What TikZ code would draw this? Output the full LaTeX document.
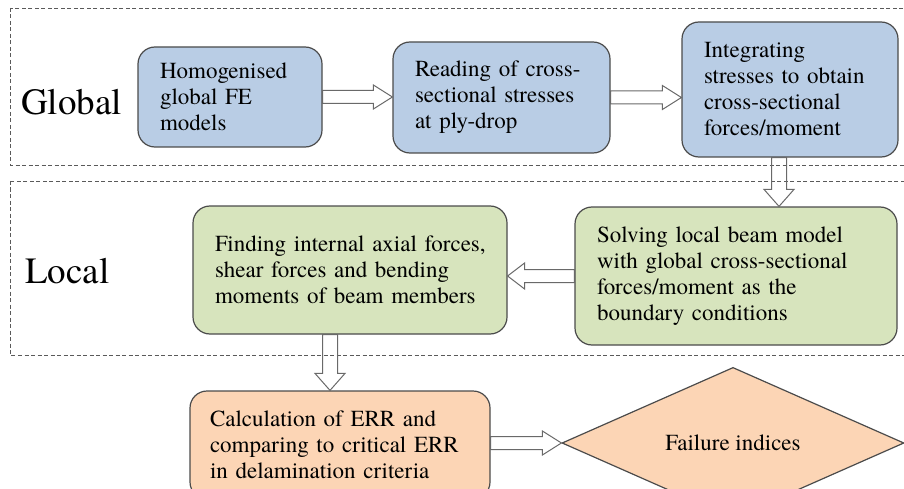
\documentclass[tikz,border=0pt]{standalone}
\usepackage{fontspec}
\setmainfont{texgyretermes}[Extension=.otf, UprightFont=*-regular, BoldFont=*-bold, ItalicFont=*-italic, BoldItalicFont=*-bolditalic]
\usetikzlibrary{calc,shapes.geometric}
\definecolor{boxblue}{RGB}{185,205,229}
\definecolor{boxgreen}{RGB}{215,228,189}
\definecolor{boxorange}{RGB}{252,213,181}
\definecolor{edgegray}{RGB}{75,75,75}
\definecolor{arrowgray}{RGB}{105,105,105}
\definecolor{dashgray}{RGB}{90,90,90}
\tikzset{
  region/.style={draw=dashgray, line width=0.9pt, dash pattern=on 4pt off 2.5pt},
  stepbox/.style={draw=edgegray, line width=1.2pt, rounded corners=17pt, inner xsep=22pt, inner ysep=0pt,
    align=left, font=\fontsize{23}{26}\selectfont},
  zonelabel/.style={anchor=base west, inner sep=0pt, font=\fontsize{37}{40}\selectfont},
  hollow/.style={draw=arrowgray, line width=1pt},
  rarrow/.style={hollow, to path={let \p1=(\tikztostart), \p2=(\tikztotarget) in
    (\x1,\y1+6.5pt) -- (\x2-19pt,\y1+6.5pt) -- (\x2-19pt,\y1+12pt) -- (\x2,\y1)
    -- (\x2-19pt,\y1-12pt) -- (\x2-19pt,\y1-6.5pt) -- (\x1,\y1-6.5pt) -- cycle}},
  larrow/.style={hollow, to path={let \p1=(\tikztostart), \p2=(\tikztotarget) in
    (\x1,\y1+6.5pt) -- (\x2+17pt,\y1+6.5pt) -- (\x2+17pt,\y1+13pt) -- (\x2,\y1)
    -- (\x2+17pt,\y1-13pt) -- (\x2+17pt,\y1-6.5pt) -- (\x1,\y1-6.5pt) -- cycle}},
  darrow/.style={hollow, to path={let \p1=(\tikztostart), \p2=(\tikztotarget) in
    (\x1-7.5pt,\y1) -- (\x1-7.5pt,\y2+17pt) -- (\x1-15pt,\y2+17pt) -- (\x1,\y2)
    -- (\x1+15pt,\y2+17pt) -- (\x1+7.5pt,\y2+17pt) -- (\x1+7.5pt,\y1) -- cycle}},
}
\begin{document}
\begin{tikzpicture}[x=1pt,y=-1pt]
\path[use as bounding box] (0,0) rectangle (904,489);
\clip (0,0) rectangle (904,489);
% regions
\draw[region] (10,8) rectangle (930,165);
\draw[region] (10,181) rectangle (930,355);
\node[zonelabel] (glob) at (21,115) {Global};
\node[zonelabel] (loc) at (25,283) {Local};
% boxes
\node[stepbox, fill=boxblue, minimum width=184pt, minimum height=100pt, text width=140pt] (b1) at (230,97)
  {Homogenised\\global FE\\models};
\node[stepbox, fill=boxblue, minimum width=217pt, minimum height=111pt, text width=173pt] (b2) at (501.5,97.5)
  {Reading of cross-\\sectional stresses\\at ply-drop};
\node[stepbox, fill=boxblue, minimum width=216pt, minimum height=135pt, text width=172pt] (b3) at (790,89.5)
  {Integrating\\stresses to obtain\\cross-sectional\\forces/moment};
\node[stepbox, fill=boxgreen, minimum width=322pt, minimum height=138pt, text width=278pt] (b4) at (736,276)
  {Solving local beam model\\with global cross-sectional\\forces/moment as the\\boundary conditions};
\node[stepbox, fill=boxgreen, minimum width=314pt, minimum height=128pt, text width=270pt] (b5) at (350,270)
  {\mbox{Finding internal axial forces,}\\shear forces and bending\\moments of beam members};
\node[stepbox, fill=boxorange, minimum width=300pt, minimum height=108pt, text width=260pt, inner xsep=20pt] (b6) at (340,445)
  {Calculation of ERR and\\comparing to critical ERR\\in delamination criteria};
\node[diamond, draw=edgegray, line width=1.2pt, fill=boxorange, minimum width=342pt, minimum height=104pt,
  inner sep=0pt, font=\fontsize{23}{26}\selectfont] (b7) at (733,443) {Failure indices};
% connectors
\coordinate (c34) at ($(b3.south)+(-11,0)$);
\coordinate (c56) at ($(b5.south)+(-20,0)$);
\draw[rarrow] (b1.east) to (b2.west |- b1.east);
\draw[rarrow] (b2.east) to (b3.west |- b2.east);
\draw[darrow] (c34) to (c34 |- b4.north);
\draw[larrow] (b4.west) to (b5.east |- b4.west);
\draw[darrow] (c56) to (c56 |- b6.north);
\draw[rarrow] (b6.east |- b7.west) to (b7.west);
\end{tikzpicture}
\end{document}
